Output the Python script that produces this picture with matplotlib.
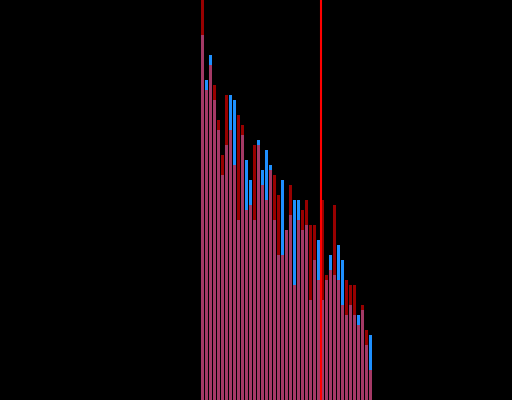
import matplotlib
matplotlib.use("Agg")
import matplotlib.pyplot as plt
import numpy as np

# histogram counts per bin (bin index 0..42)
red_counts = [80, 62, 67, 63, 56, 49, 61, 54, 47, 57, 55, 38, 39, 51, 51, 43, 40, 46, 45, 41,
              29, 34, 43, 23, 36, 38, 40, 35, 35, 24, 40, 25, 26, 39, 24, 19, 24, 23, 23, 15,
              19, 14, 6]
blue_counts = [73, 64, 69, 60, 54, 45, 51, 61, 60, 36, 53, 48, 44, 36, 52, 46, 50, 47, 36, 29,
               44, 34, 37, 40, 40, 34, 35, 20, 28, 32, 20, 24, 29, 25, 31, 28, 17, 19, 17, 17,
               18, 11, 13]
marker_x = 29.9

bins = np.arange(len(red_counts))

fig = plt.figure(figsize=(5.12, 4.0), dpi=100, facecolor="black")
ax = fig.add_axes([0, 0, 1, 1])
ax.set_facecolor("black")

ax.bar(bins, blue_counts, width=0.75, align="edge", color="#1e90ff", linewidth=0)
ax.bar(bins, red_counts, width=0.75, align="edge", color="#ff0000", alpha=0.6, linewidth=0)
ax.axvline(marker_x, color="#ff0000", linewidth=1.5)

ax.set_xlim(-50.25, 77.75)
ax.set_ylim(0, 80)
ax.axis("off")

fig.savefig("out.png", dpi=100, facecolor="black")
